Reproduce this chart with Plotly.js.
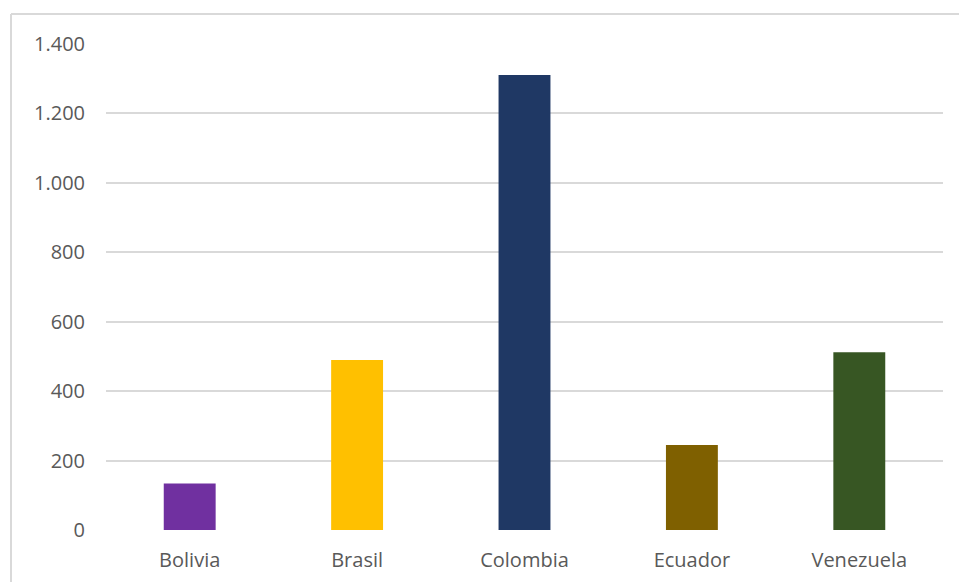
<!DOCTYPE html>
<html>
<head>
<meta charset="utf-8">
<script src="https://cdn.plot.ly/plotly-3.0.1.min.js"></script>
<style>
  html, body { margin: 0; padding: 0; background: #ffffff; }
  #chart { width: 959px; height: 582px; }
</style>
</head>
<body>
<div id="chart"></div>
<script>
// Countries and their values
var countries = ['Bolivia', 'Brasil', 'Colombia', 'Ecuador', 'Venezuela'];
var values = [134, 490, 1311, 245, 512];
var barColors = ['#7030A0', '#FFC000', '#1F3864', '#7F6000', '#375623'];
var yTicks = [0, 200, 400, 600, 800, 1000, 1200, 1400];

var W = 959, H = 582;
var plotLeft = 106, plotRight = 943, plotTop = 44, plotBottom = 530;
var pw = plotRight - plotLeft, ph = plotBottom - plotTop;

// pixel -> paper helpers for the outer frame lines
function px(x) { return (x - plotLeft) / pw; }
function py(y) { return (plotBottom - y) / ph; }

var frameColor = '#d9d9d9';
var textColor = '#595959';
var fontFamily = '"Open Sans", "Noto Sans", sans-serif';
var fontSize = 20;

var trace = {
  type: 'bar',
  x: countries,
  y: values,
  marker: { color: barColors, line: { width: 0 } },
  hoverinfo: 'x+y'
};

var layout = {
  width: W,
  height: H,
  margin: { l: plotLeft, r: W - plotRight, t: plotTop, b: H - plotBottom, pad: 0 },
  paper_bgcolor: '#ffffff',
  plot_bgcolor: '#ffffff',
  separators: ',.',
  bargap: 0.69,
  showlegend: false,
  font: { family: fontFamily, size: fontSize, color: textColor },
  xaxis: {
    type: 'category',
    showgrid: false,
    zeroline: false,
    showline: false,
    ticks: '',
    ticklabelstandoff: 16,
    tickfont: { family: fontFamily, size: fontSize, color: textColor }
  },
  yaxis: {
    range: [0, 1400],
    tickvals: yTicks,
    tickformat: ',d',
    showgrid: true,
    gridcolor: frameColor,
    gridwidth: 2,
    zeroline: false,
    showline: false,
    ticks: '',
    ticklabelstandoff: 20,
    tickfont: { family: fontFamily, size: fontSize, color: textColor }
  },
  shapes: [
    { type: 'line', xref: 'paper', yref: 'paper', layer: 'below',
      x0: px(11), x1: px(W + 5), y0: py(14), y1: py(14),
      line: { color: frameColor, width: 2 } },
    { type: 'line', xref: 'paper', yref: 'paper', layer: 'below',
      x0: px(11), x1: px(11), y0: py(14), y1: py(H + 5),
      line: { color: frameColor, width: 2 } }
  ]
};

Plotly.newPlot('chart', [trace], layout, { displayModeBar: false, staticPlot: true });
</script>
</body>
</html>
